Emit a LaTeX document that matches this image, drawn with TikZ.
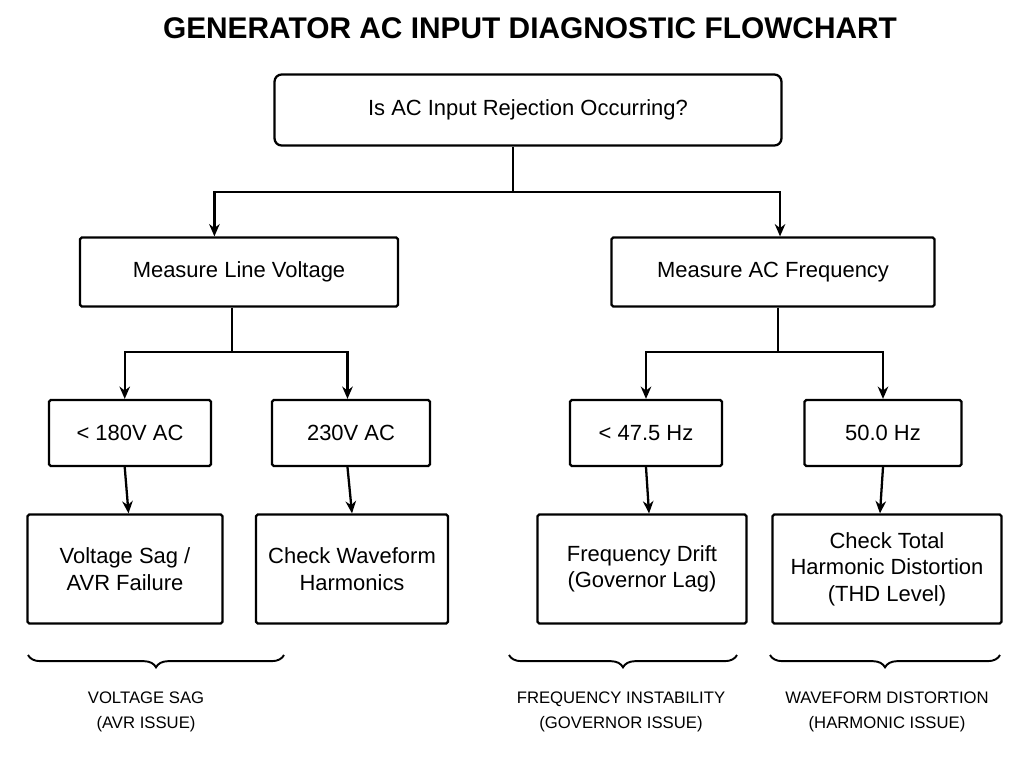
\documentclass[tikz,border=0pt]{standalone}
\usepackage{fontspec}
\setmainfont{Liberation Sans}
\usetikzlibrary{arrows.meta}
\usetikzlibrary{decorations.pathreplacing}

\tikzset{
  checkbox/.style={draw, line width=1.3pt, rounded corners=1pt, align=center,
    font=\fontsize{12.5}{15}\selectfont, inner sep=0pt},
  link/.style={line width=1.3pt},
  flow/.style={line width=1.3pt, -{Stealth[length=7pt,width=6pt]}},
  group/.style={line width=1.1pt, decorate,
    decoration={brace, mirror, amplitude=7pt}},
  tag/.style={align=center, font=\fontsize{9.5}{14}\selectfont}
}

\begin{document}
\begin{tikzpicture}[x=0.02cm, y=-0.02cm]

    \useasboundingbox (0,0) rectangle (1024,768);

    \node[font=\bfseries\fontsize{17}{20}\selectfont]
      (Title) at (530,28) {GENERATOR AC INPUT DIAGNOSTIC FLOWCHART};

    \node[checkbox, rounded corners=4pt, minimum width=10.14cm, minimum height=1.42cm]
      (Question) at (528,110) {Is AC Input Rejection Occurring?};

    \node[checkbox, minimum width=6.36cm, minimum height=1.38cm]
      (Voltage) at (239,272) {Measure Line Voltage};
    \node[checkbox, minimum width=6.46cm, minimum height=1.38cm]
      (Frequency) at (773,272) {Measure AC Frequency};

    \node[checkbox, minimum width=3.24cm, minimum height=1.32cm]
      (LowVolt) at (130,433) {< 180V AC};
    \node[checkbox, minimum width=3.16cm, minimum height=1.32cm]
      (NormVolt) at (351,433) {230V AC};
    \node[checkbox, minimum width=3.04cm, minimum height=1.32cm]
      (LowFreq) at (646,433) {< 47.5 Hz};
    \node[checkbox, minimum width=3.14cm, minimum height=1.32cm]
      (NormFreq) at (883,433) {50.0 Hz};

    \node[checkbox, minimum width=3.9cm, minimum height=2.18cm]
      (Sag) at (125,569) {Voltage Sag /\\AVR Failure};
    \node[checkbox, minimum width=3.84cm, minimum height=2.18cm]
      (Waveform) at (352,569) {Check Waveform\\Harmonics};
    \node[checkbox, minimum width=4.18cm, minimum height=2.18cm]
      (Drift) at (642,569) {Frequency Drift\\(Governor Lag)};
    \node[checkbox, minimum width=4.58cm, minimum height=2.18cm]
      (THD) at (887,569) {Check Total\\Harmonic Distortion\\(THD Level)};

    % branching connectors
    \coordinate (TopSplit) at (513,192);
    \coordinate (VoltSplit) at (232,352);
    \coordinate (FreqSplit) at (778,352);

    \draw[link] (Question.south -| TopSplit) -- (TopSplit);
    \draw[flow] (TopSplit) -| ([xshift=-14]Voltage.north);
    \draw[flow] (TopSplit) -| ([xshift=4]Frequency.north);

    \draw[link] (Voltage.south -| VoltSplit) -- (VoltSplit);
    \draw[flow] (VoltSplit) -| ([xshift=-3]LowVolt.north);
    \draw[flow] (VoltSplit) -| ([xshift=-2]NormVolt.north);

    \draw[link] (Frequency.south -| FreqSplit) -- (FreqSplit);
    \draw[flow] (FreqSplit) -| (LowFreq.north);
    \draw[flow] (FreqSplit) -| (NormFreq.north);

    \draw[flow] ([xshift=-3]LowVolt.south) -- ([xshift=2]Sag.north);
    \draw[flow] ([xshift=-2]NormVolt.south) -- (Waveform.north);
    \draw[flow] (LowFreq.south) -- ([xshift=4]Drift.north);
    \draw[flow] (NormFreq.south) -- ([xshift=-4]THD.north);

    % groups
    \coordinate (SagL) at (28,655);
    \coordinate (SagR) at (284,655);
    \coordinate (FreqL) at (509,655);
    \coordinate (FreqR) at (737,655);
    \coordinate (WaveL) at (770,655);
    \coordinate (WaveR) at (1000,655);

    \draw[group] (SagL) -- (SagR);
    \draw[group] (FreqL) -- (FreqR);
    \draw[group] (WaveL) -- (WaveR);

    \node[tag] (SagTag) at (146,712) {VOLTAGE SAG\\(AVR ISSUE)};
    \node[tag] (FreqTag) at (621,712) {FREQUENCY INSTABILITY\\(GOVERNOR ISSUE)};
    \node[tag] (WaveTag) at (887,712) {WAVEFORM DISTORTION\\(HARMONIC ISSUE)};

  \end{tikzpicture}
\end{document}
